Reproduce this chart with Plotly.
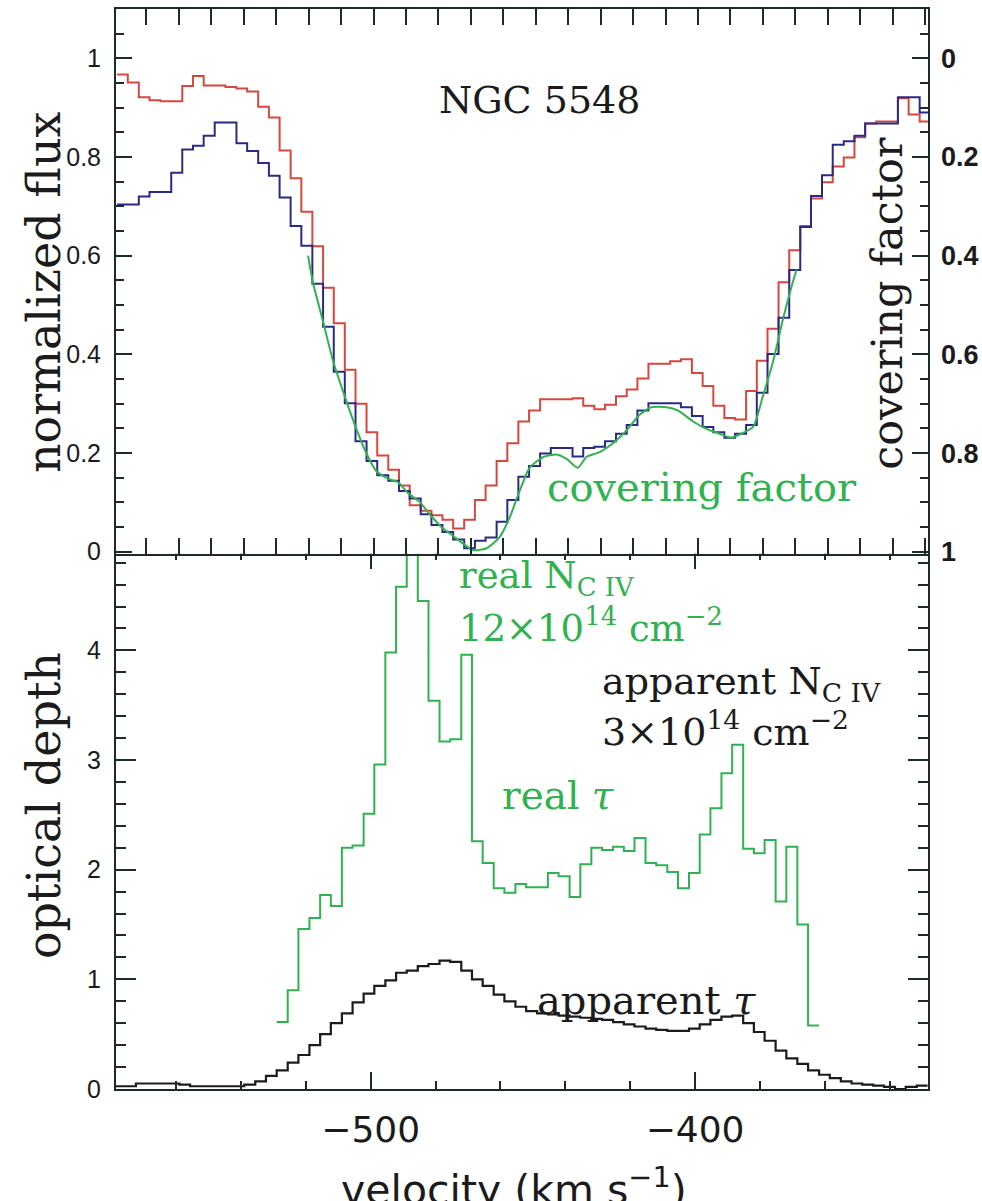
import numpy as np
import plotly.graph_objects as go

# ---------------------------------------------------------------------------
# Data: NGC 5548, C IV absorption trough
# ---------------------------------------------------------------------------
# velocity bin centres (km/s), one per spectral bin
velocity = [
    -577.4, -574.1, -570.7, -567.4, -564.0, -560.7, -557.3, -554.0, -550.7, -547.3,
    -544.0, -540.6, -537.3, -533.9, -530.6, -527.3, -523.9, -520.6, -517.2, -513.9,
    -510.6, -507.2, -503.9, -500.5, -497.2, -493.8, -490.5, -487.2, -483.8, -480.5,
    -477.1, -473.8, -470.4, -467.1, -463.8, -460.4, -457.1, -453.7, -450.4, -447.0,
    -443.7, -440.4, -437.0, -433.7, -430.3, -427.0, -423.6, -420.3, -417.0, -413.6,
    -410.3, -406.9, -403.6, -400.2, -396.9, -393.6, -390.2, -386.9, -383.5, -380.2,
    -376.9, -373.5, -370.2, -366.8, -363.5, -360.1, -356.8, -353.4, -350.1, -346.8,
    -343.4, -340.1, -336.7, -333.4, -330.0,
]

# normalized flux of the two doublet members
flux_red = [
    0.967, 0.951, 0.921, 0.915, 0.913, 0.913, 0.944, 0.964, 0.945, 0.945,
    0.942, 0.939, 0.933, 0.902, 0.880, 0.813, 0.757, 0.689, 0.619, 0.535,
    0.463, 0.369, 0.300, 0.242, 0.195, 0.166, 0.134, 0.094, 0.083, 0.074,
    0.065, 0.047, 0.065, 0.105, 0.134, 0.184, 0.220, 0.264, 0.286, 0.309,
    0.309, 0.309, 0.311, 0.296, 0.289, 0.298, 0.315, 0.329, 0.351, 0.381,
    0.381, 0.386, 0.390, 0.362, 0.336, 0.296, 0.271, 0.268, 0.326, 0.387,
    0.452, 0.546, 0.611, 0.660, 0.716, 0.749, 0.781, 0.799, 0.840, 0.868,
    0.872, 0.872, 0.919, 0.886, 0.872,
]
flux_blue = [
    0.704, 0.704, 0.720, 0.729, 0.729, 0.768, 0.815, 0.823, 0.843, 0.870,
    0.870, 0.828, 0.812, 0.788, 0.762, 0.718, 0.660, 0.620, 0.543, 0.456,
    0.365, 0.301, 0.224, 0.184, 0.155, 0.144, 0.123, 0.108, 0.076, 0.054,
    0.040, 0.025, 0.007, 0.022, 0.029, 0.061, 0.105, 0.152, 0.174, 0.199,
    0.210, 0.210, 0.193, 0.210, 0.213, 0.224, 0.239, 0.257, 0.286, 0.301,
    0.301, 0.301, 0.293, 0.275, 0.253, 0.242, 0.231, 0.239, 0.257, 0.322,
    0.401, 0.474, 0.571, 0.658, 0.721, 0.763, 0.825, 0.832, 0.843, 0.868,
    0.868, 0.868, 0.921, 0.921, 0.890,
]

# apparent optical depth over the full window
tau_apparent = [
    0.025, 0.025, 0.05, 0.05, 0.05, 0.05, 0.04, 0.025, 0.025, 0.025,
    0.025, 0.025, 0.04, 0.07, 0.12, 0.17, 0.24, 0.31, 0.40, 0.50,
    0.60, 0.69, 0.79, 0.87, 0.94, 0.99, 1.06, 1.08, 1.12, 1.14,
    1.17, 1.16, 1.08, 1.00, 0.94, 0.86, 0.80, 0.75, 0.71, 0.69,
    0.68, 0.67, 0.66, 0.65, 0.64, 0.63, 0.61, 0.59, 0.57, 0.55,
    0.54, 0.53, 0.53, 0.55, 0.59, 0.63, 0.66, 0.67, 0.60, 0.52,
    0.44, 0.35, 0.28, 0.23, 0.17, 0.13, 0.10, 0.07, 0.05, 0.04,
    0.03, 0.02, 0.00, 0.02, 0.03,
]

# real optical depth, defined only inside the trough
velocity_real = velocity[15:65]
tau_real = [
    0.61, 0.90, 1.46, 1.56, 1.77, 1.67, 2.20, 2.22, 2.51, 2.96,
    3.98, 4.58, 6.00, 4.45, 3.54, 3.17, 3.19, 3.96, 2.26, 2.06,
    1.83, 1.79, 1.87, 1.84, 1.84, 1.97, 1.94, 1.75, 2.05, 2.20,
    2.18, 2.21, 2.17, 2.29, 2.06, 2.04, 1.98, 1.83, 1.97, 2.32,
    2.56, 2.88, 3.14, 2.19, 2.15, 2.27, 1.71, 2.21, 1.50, 0.58,
]

# derived covering factor (smooth curve, right-hand axis)
cf_velocity = [
    -520.2, -518.7, -515.6, -512.5, -508.9, -505.3, -502.2, -499.1, -495.5, -492.5,
    -489.4, -485.8, -482.7, -479.1, -475.5, -471.9, -469.3, -465.2, -461.1, -458.0,
    -454.9, -451.9, -447.7, -443.6, -440.5, -437.0, -434.4, -430.3, -426.2, -422.0,
    -417.9, -414.3, -409.7, -406.1, -401.5, -397.4, -393.3, -389.7, -386.1, -383.0,
    -380.0, -376.8, -373.7, -371.1, -369.6,
]
cf_value = [
    0.400, 0.454, 0.533, 0.613, 0.685, 0.751, 0.801, 0.837, 0.852, 0.859,
    0.881, 0.899, 0.924, 0.950, 0.968, 0.986, 0.997, 0.993, 0.970, 0.930,
    0.875, 0.830, 0.808, 0.803, 0.812, 0.830, 0.808, 0.798, 0.780, 0.754,
    0.722, 0.707, 0.707, 0.714, 0.736, 0.751, 0.761, 0.769, 0.759, 0.747,
    0.685, 0.613, 0.526, 0.461, 0.428,
]

# ---------------------------------------------------------------------------
RED = "#d8473d"
BLUE = "#2a2a86"
GREEN = "#2fb24f"
BLACK = "#1b1b1b"
AXIS = "#1c2a2a"
SERIF = "DejaVu Serif"
SANS = "Liberation Sans"


def step_xy(centres, values):
    """Histogram outline: bin edges on x, value repeated for the last edge."""
    c = np.asarray(centres, dtype=float)
    half = np.diff(c).mean() / 2.0
    x = np.append(c - half, c[-1] + half)
    y = np.append(np.asarray(values, dtype=float), values[-1])
    return x, y


fig = go.Figure()

# --- upper panel: normalized flux + covering factor -------------------------
xr, yr = step_xy(velocity, flux_red)
fig.add_trace(go.Scatter(x=xr, y=yr, mode="lines", line=dict(color=RED, width=2, shape="hv"),
                         xaxis="x2", yaxis="y2", showlegend=False))
xb, yb = step_xy(velocity, flux_blue)
fig.add_trace(go.Scatter(x=xb, y=yb, mode="lines", line=dict(color=BLUE, width=2, shape="hv"),
                         xaxis="x2", yaxis="y2", showlegend=False))
fig.add_trace(go.Scatter(x=cf_velocity, y=cf_value, mode="lines",
                         line=dict(color=GREEN, width=2, shape="spline", smoothing=0.6),
                         xaxis="x2", yaxis="y3", showlegend=False))

# --- lower panel: optical depths -------------------------------------------
xg, yg = step_xy(velocity_real, tau_real)
fig.add_trace(go.Scatter(x=xg, y=yg, mode="lines", line=dict(color=GREEN, width=2, shape="hv"),
                         xaxis="x", yaxis="y", showlegend=False))
xa, ya = step_xy(velocity, tau_apparent)
fig.add_trace(go.Scatter(x=xa, y=ya, mode="lines", line=dict(color=BLACK, width=2.2, shape="hv"),
                         xaxis="x", yaxis="y", showlegend=False))

SPLIT = 0.4975
# the upper panel overlaps the lower one by one line width so the shared edge is a single line
TOP_START = SPLIT - 2.0 / 1080
tick_common = dict(ticks="inside", tickcolor=AXIS, tickwidth=2, showline=True,
                   linecolor=AXIS, linewidth=2, showgrid=False, zeroline=False,
                   automargin=False)

fig.update_layout(
    width=982, height=1201,
    margin=dict(l=116, r=54, t=9, b=112, autoexpand=False),
    paper_bgcolor="white", plot_bgcolor="white",
    xaxis=dict(domain=[0, 1], anchor="y", range=[-578.5, -328.2],
               tickmode="linear", tick0=-500, dtick=100, ticklen=17,
               minor=dict(tick0=-500, dtick=20, ticks="inside", ticklen=8,
                          tickwidth=2, tickcolor=AXIS),
               mirror="allticks", ticklabelstandoff=8,
               tickfont=dict(family="DejaVu Sans", size=36, color=BLACK),
               **tick_common),
    yaxis=dict(domain=[0, SPLIT], anchor="x", range=[0, 4.9],
               tickmode="linear", tick0=0, dtick=1, ticklen=20,
               minor=dict(tick0=0, dtick=0.2, ticks="inside", ticklen=10,
                          tickwidth=2, tickcolor=AXIS),
               mirror="allticks", ticklabelstandoff=8,
               tickfont=dict(family=SANS, size=25, color=BLACK),
               **tick_common),
    xaxis2=dict(domain=[0, 1], anchor="y2", range=[-579.4, -329.1],
                tickmode="linear", tick0=-500, dtick=50, ticklen=16,
                minor=dict(tick0=-500, dtick=10, ticks="inside", ticklen=8,
                           tickwidth=2, tickcolor=AXIS),
                mirror="allticks", showticklabels=False, **tick_common),
    yaxis2=dict(domain=[TOP_START, 1], anchor="x2", range=[-0.004, 1.1],
                tickmode="linear", tick0=0, dtick=0.2, ticklen=16,
                minor=dict(tick0=0, dtick=0.05, ticks="inside", ticklen=8,
                           tickwidth=2, tickcolor=AXIS),
                mirror=True, ticklabelstandoff=8,
                tickfont=dict(family=SANS, size=25, color=BLACK),
                **tick_common),
    yaxis3=dict(overlaying="y2", anchor="x2", side="right", range=[1.004, -0.1],
                tickmode="linear", tick0=0, dtick=0.2, ticks="inside", ticklen=16,
                tickcolor=AXIS, tickwidth=2, showline=False, showgrid=False, zeroline=False,
                automargin=False,
                minor=dict(tick0=0, dtick=0.05, ticks="inside", ticklen=8,
                           tickwidth=2, tickcolor=AXIS),
                ticklabelstandoff=12,
                tickfont=dict(family=SANS, size=27, color=BLACK, weight="bold")),
)

ann = []
# panel labels
ann.append(dict(text="NGC 5548", x=-448.8, y=0.915, xref="x2", yref="y2",
                showarrow=False, font=dict(family=SERIF, size=38, color=BLACK)))
ann.append(dict(text="covering factor", x=-447.2, y=0.131, xref="x2", yref="y2",
                xanchor="left", showarrow=False, font=dict(family=SERIF, size=40, color=GREEN)))
# column densities, one annotation per text line
ann.append(dict(text="real N<sub>C IV</sub>", x=-473.3, y=4.66, xref="x", yref="y",
                xanchor="left", yanchor="middle", showarrow=False,
                font=dict(family=SERIF, size=37, color=GREEN)))
ann.append(dict(text="12×10<sup>14</sup> cm<sup>−2</sup>", x=-473.3, y=4.23, xref="x", yref="y",
                xanchor="left", yanchor="middle", showarrow=False,
                font=dict(family=SERIF, size=37, color=GREEN)))
ann.append(dict(text="apparent N<sub>C IV</sub>", x=-429.3, y=3.70, xref="x", yref="y",
                xanchor="left", yanchor="middle", showarrow=False,
                font=dict(family=SERIF, size=38, color=BLACK)))
ann.append(dict(text="3×10<sup>14</sup> cm<sup>−2</sup>", x=-429.3, y=3.28, xref="x", yref="y",
                xanchor="left", yanchor="middle", showarrow=False,
                font=dict(family=SERIF, size=38, color=BLACK)))
ann.append(dict(text="real <i>τ</i>", x=-460.1, y=2.68, xref="x", yref="y",
                xanchor="left", showarrow=False, font=dict(family=SERIF, size=39, color=GREEN)))
ann.append(dict(text="apparent <i>τ</i>", x=-449.3, y=0.81, xref="x", yref="y",
                xanchor="left", showarrow=False, font=dict(family=SERIF, size=40, color=BLACK)))
# axis titles
ann.append(dict(text="normalized flux", x=-0.0886, y=0.738, xref="paper", yref="paper",
                xanchor="center", yanchor="middle",
                textangle=-90, showarrow=False, font=dict(family=SERIF, size=46, color=BLACK)))
ann.append(dict(text="optical depth", x=-0.0886, y=0.262, xref="paper", yref="paper",
                xanchor="center", yanchor="middle",
                textangle=-90, showarrow=False, font=dict(family=SERIF, size=46, color=BLACK)))
ann.append(dict(text="covering factor", x=0.9495, y=0.728, xref="paper", yref="paper",
                xanchor="center", yanchor="middle",
                textangle=-90, showarrow=False, font=dict(family=SERIF, size=43, color=BLACK)))
ann.append(dict(text="velocity (km s<sup>−1</sup>)", x=0.49, y=-0.0907, xref="paper", yref="paper",
                xanchor="center", yanchor="middle", showarrow=False,
                font=dict(family="DejaVu Sans", size=41, color=BLACK)))
fig.update_layout(annotations=ann)

fig.write_html("out.html")
